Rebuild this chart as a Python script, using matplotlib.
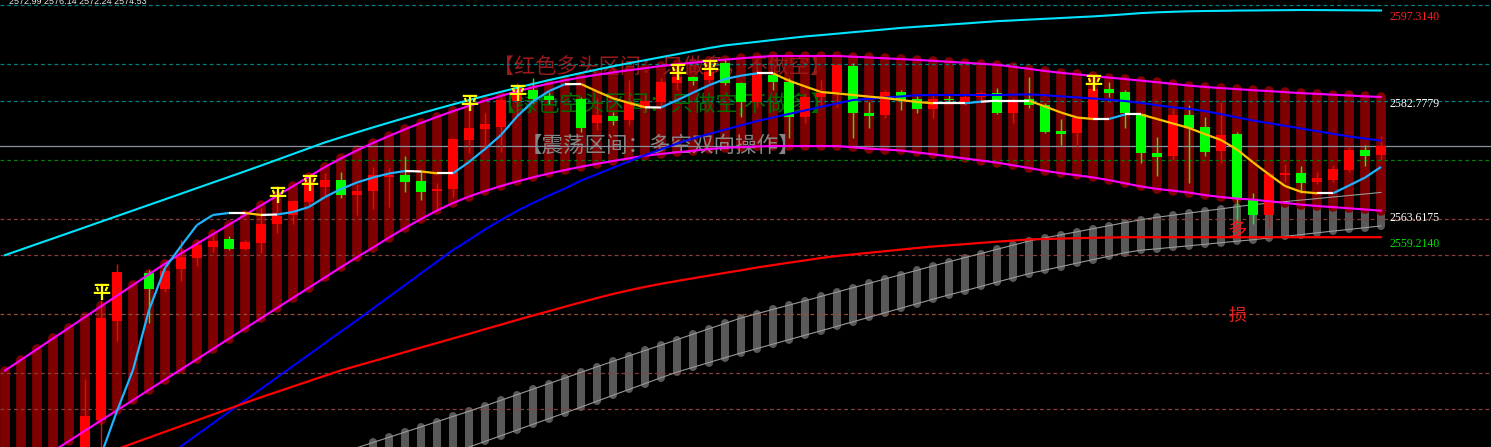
import numpy as np
import matplotlib.pyplot as plt
from matplotlib.collections import LineCollection

plt.rcParams['font.family'] = ['Noto Sans CJK SC', 'DejaVu Sans']

nan = np.nan

# Candles, one per bar. Index 0 is the bar at the left edge of the screen.
opens = [nan, nan, nan, nan, nan, 2520.08, 2528.49, 2545.13, nan, 2553.20,
         2550.51, 2553.87, 2555.72, 2557.57, 2558.91, 2557.23, 2558.24, 2561.43, 2562.95, 2565.13,
         2567.65, 2568.83, 2566.31, 2566.98, 2569.33, 2569.67, 2568.66, 2566.98, 2567.32, 2575.55,
         2577.40, 2577.74, 2582.11, 2583.95, 2582.95, nan, 2582.44, 2578.41, 2579.58, 2578.91,
         2580.93, 2581.94, 2585.13, 2586.14, 2585.63, 2588.49, 2585.13, 2581.94, 2586.47, 2585.30,
         2579.42, 2582.78, 2583.62, 2587.99, 2580.09, 2579.75, 2583.62, 2582.44, 2580.76, 2582.44,
         2581.94, 2582.78, 2583.45, 2580.09, 2582.44, 2581.43, 2577.06, 2576.73, 2579.25, 2584.12,
         2583.62, 2579.92, 2573.37, 2572.86, 2579.75, 2577.74, 2573.70, 2576.56, 2565.63, 2562.95,
         2569.67, 2570.00, 2568.49, 2568.83, 2570.51, 2573.87, 2572.99]
highs = [nan, nan, nan, nan, nan, 2535.38, 2548.66, 2554.71, nan, 2553.70,
         2554.04, 2558.74, 2558.74, 2559.58, 2559.42, 2558.74, 2564.12, 2567.82, 2565.47, 2569.67,
         2570.00, 2570.17, 2568.16, 2571.01, 2570.84, 2572.86, 2570.51, 2568.32, 2575.89, 2583.11,
         2580.09, 2582.78, 2585.13, 2585.97, 2583.62, nan, 2582.78, 2582.61, 2580.26, 2585.63,
         2583.11, 2585.97, 2587.65, 2586.31, 2588.66, 2589.33, 2585.30, 2587.32, 2586.81, 2585.97,
         2583.45, 2585.63, 2588.49, 2588.49, 2581.94, 2583.95, 2583.95, 2582.95, 2582.95, 2583.28,
         2583.45, 2583.79, 2584.29, 2582.61, 2586.14, 2581.77, 2579.08, 2579.42, 2585.97, 2585.30,
         2583.95, 2579.92, 2576.05, 2581.10, 2581.43, 2579.42, 2581.94, 2576.90, 2566.64, 2570.17,
         2571.52, 2571.18, 2570.17, 2571.35, 2574.37, 2574.71, 2576.14]
lows = [nan, nan, nan, nan, nan, 2518.41, 2521.77, 2541.77, nan, 2544.79,
        2550.00, 2551.85, 2554.37, 2556.73, 2557.06, 2557.06, 2556.56, 2559.92, 2561.43, 2564.63,
        2565.97, 2565.80, 2562.95, 2563.95, 2564.29, 2566.81, 2565.47, 2563.79, 2565.97, 2573.37,
        2573.87, 2573.53, 2579.42, 2581.77, 2581.60, nan, 2576.90, 2577.23, 2578.07, 2578.07,
        2580.26, 2581.10, 2583.95, 2584.79, 2585.13, 2584.79, 2579.42, 2581.10, 2583.95, 2575.89,
        2578.41, 2581.10, 2581.10, 2575.89, 2577.57, 2579.25, 2580.59, 2580.09, 2579.25, 2581.77,
        2581.43, 2582.27, 2580.00, 2578.41, 2580.93, 2576.73, 2574.71, 2574.37, 2579.08, 2582.78,
        2577.57, 2571.69, 2569.50, 2572.19, 2568.32, 2572.86, 2571.69, 2561.60, 2561.43, 2560.59,
        2568.49, 2566.64, 2568.16, 2568.49, 2570.17, 2571.18, 2572.24]
closes = [nan, nan, nan, nan, nan, 2529.16, 2545.63, 2553.37, nan, 2550.51,
          2553.53, 2555.89, 2557.90, 2558.58, 2557.23, 2558.41, 2561.43, 2562.78, 2565.30, 2568.49,
          2568.83, 2566.31, 2566.98, 2569.67, 2569.67, 2568.49, 2566.81, 2567.32, 2575.72, 2577.57,
          2578.24, 2582.27, 2584.29, 2582.44, 2582.27, nan, 2577.57, 2579.75, 2578.74, 2581.94,
          2582.11, 2585.30, 2586.14, 2585.47, 2586.98, 2585.13, 2581.94, 2586.81, 2585.30, 2579.42,
          2582.78, 2583.45, 2588.16, 2580.09, 2579.58, 2583.62, 2582.27, 2580.76, 2582.44, 2582.19,
          2582.78, 2583.45, 2580.09, 2582.27, 2581.43, 2576.90, 2576.64, 2579.25, 2584.12, 2583.45,
          2580.09, 2573.37, 2572.69, 2579.75, 2577.57, 2573.53, 2576.39, 2565.63, 2562.95, 2569.84,
          2570.00, 2568.32, 2569.16, 2570.68, 2573.87, 2572.86, 2574.53]

# channel (magenta lines, dark red bars between them)
band_upper = [2536.79, 2538.59, 2540.39, 2542.19, 2543.99, 2545.80, 2547.60, 2549.38, 2551.18, 2552.98,
              2554.76, 2556.49, 2558.10, 2559.72, 2561.33, 2562.95, 2564.56, 2566.17, 2567.79, 2569.40,
              2571.01, 2572.46, 2573.80, 2575.05, 2576.22, 2577.35, 2578.42, 2579.43, 2580.39, 2581.30,
              2582.16, 2582.96, 2583.72, 2584.41, 2585.03, 2585.58, 2586.07, 2586.51, 2586.91, 2587.28,
              2587.62, 2588.00, 2588.27, 2588.54, 2588.81, 2589.06, 2589.28, 2589.50, 2589.67, 2589.67,
              2589.67, 2589.67, 2589.67, 2589.55, 2589.42, 2589.28, 2589.15, 2589.01, 2588.86, 2588.69,
              2588.53, 2588.36, 2588.19, 2587.87, 2587.50, 2587.15, 2586.84, 2586.58, 2586.31, 2586.04,
              2585.79, 2585.53, 2585.26, 2584.98, 2584.69, 2584.46, 2584.27, 2584.10, 2583.92, 2583.77,
              2583.60, 2583.43, 2583.30, 2583.16, 2583.03, 2582.88, 2582.78]
band_lower = [2518.07, 2519.75, 2521.53, 2523.25, 2524.96, 2526.69, 2528.41, 2530.12, 2531.83, 2533.57,
              2535.28, 2536.99, 2538.71, 2540.44, 2542.16, 2543.87, 2545.58, 2547.31, 2549.03, 2550.74,
              2552.46, 2554.17, 2555.85, 2557.48, 2559.16, 2560.76, 2562.27, 2563.70, 2564.96, 2566.05,
              2566.98, 2567.82, 2568.58, 2569.28, 2569.92, 2570.51, 2571.05, 2571.55, 2572.02, 2572.47,
              2572.91, 2573.21, 2573.48, 2573.75, 2574.02, 2574.24, 2574.34, 2574.46, 2574.54, 2574.54,
              2574.54, 2574.54, 2574.54, 2574.32, 2574.09, 2573.94, 2573.79, 2573.45, 2573.15, 2572.79,
              2572.44, 2572.10, 2571.75, 2571.30, 2570.84, 2570.37, 2569.97, 2569.62, 2569.26, 2568.81,
              2568.27, 2567.74, 2567.33, 2567.03, 2566.71, 2566.29, 2565.97, 2565.70, 2565.53, 2565.25,
              2564.98, 2564.68, 2564.46, 2564.27, 2564.07, 2563.87, 2563.67]

# lower grey channel
grey_upper = [nan, nan, nan, nan, nan, nan, nan, nan, nan, nan,
              nan, nan, nan, nan, nan, nan, nan, nan, nan, nan,
              nan, nan, 2523.83, 2524.71, 2525.58, 2526.46, 2527.33, 2528.21, 2529.08, 2529.95,
              2530.88, 2531.80, 2532.74, 2533.68, 2534.61, 2535.55, 2536.49, 2537.43, 2538.36, 2539.26,
              2540.17, 2541.08, 2541.99, 2542.91, 2543.82, 2544.73, 2545.63, 2546.36, 2547.08, 2547.80,
              2548.52, 2549.26, 2549.99, 2550.73, 2551.45, 2552.19, 2552.93, 2553.65, 2554.39, 2555.08,
              2555.79, 2556.47, 2557.18, 2557.87, 2558.58, 2559.10, 2559.62, 2560.12, 2560.64, 2561.15,
              2561.67, 2562.14, 2562.56, 2562.91, 2563.26, 2563.63, 2563.97, 2564.34, 2564.68, 2564.93,
              2565.20, 2565.45, 2565.70, 2565.97, 2566.22, 2566.47, 2566.74]
grey_lower = [nan, nan, nan, nan, nan, nan, nan, nan, nan, nan,
              nan, nan, nan, nan, nan, nan, nan, nan, nan, nan,
              nan, nan, 2517.16, 2518.14, 2519.11, 2520.07, 2521.05, 2522.00, 2522.98, 2523.95,
              2524.89, 2525.85, 2526.81, 2527.77, 2528.73, 2529.68, 2530.66, 2531.65, 2532.64, 2533.63,
              2534.61, 2535.60, 2536.54, 2537.35, 2538.15, 2538.96, 2539.75, 2540.49, 2541.25, 2541.99,
              2542.74, 2543.48, 2544.24, 2545.00, 2545.75, 2546.52, 2547.28, 2548.04, 2548.79, 2549.52,
              2550.22, 2550.94, 2551.67, 2552.39, 2553.10, 2553.68, 2554.27, 2554.86, 2555.45, 2556.02,
              2556.61, 2557.03, 2557.26, 2557.52, 2557.77, 2558.02, 2558.29, 2558.54, 2558.79, 2559.08,
              2559.36, 2559.65, 2559.95, 2560.24, 2560.52, 2560.81, 2561.11]

# moving averages
cyan_line = [2556.19, 2557.13, 2558.07, 2559.00, 2559.94, 2560.88, 2561.82, 2562.76, 2563.70, 2564.64,
             2565.58, 2566.52, 2567.47, 2568.41, 2569.35, 2570.29, 2571.25, 2572.22, 2573.20, 2574.17,
             2575.15, 2576.00, 2576.84, 2577.67, 2578.47, 2579.26, 2580.04, 2580.79, 2581.53, 2582.26,
             2582.96, 2583.65, 2584.32, 2584.98, 2585.62, 2586.22, 2586.81, 2587.38, 2587.94, 2588.46,
             2588.96, 2589.47, 2589.97, 2590.49, 2591.00, 2591.45, 2591.75, 2592.05, 2592.36, 2592.66,
             2592.95, 2593.18, 2593.42, 2593.67, 2593.90, 2594.14, 2594.39, 2594.58, 2594.76, 2594.95,
             2595.13, 2595.33, 2595.52, 2595.65, 2595.79, 2595.92, 2596.05, 2596.19, 2596.32, 2596.49,
             2596.68, 2596.88, 2597.01, 2597.10, 2597.18, 2597.23, 2597.26, 2597.30, 2597.32, 2597.35,
             2597.37, 2597.40, 2597.38, 2597.37, 2597.35, 2597.33, 2597.31]
blue_line = [nan, nan, nan, nan, nan, nan, nan, nan, nan, 2520.21,
             2522.14, 2524.07, 2526.00, 2527.94, 2529.85, 2531.78, 2533.72, 2535.63, 2537.57, 2539.48,
             2541.42, 2543.35, 2545.26, 2547.23, 2549.20, 2551.16, 2553.13, 2555.10, 2557.06, 2558.74,
             2560.51, 2562.11, 2563.62, 2564.96, 2566.22, 2567.40, 2568.73, 2569.80, 2570.88, 2571.95,
             2573.00, 2573.97, 2574.95, 2575.82, 2576.56, 2577.30, 2578.02, 2578.73, 2579.33, 2579.94,
             2580.52, 2581.13, 2581.70, 2582.27, 2582.47, 2582.68, 2582.88, 2583.08, 2583.11, 2583.11,
             2583.11, 2583.11, 2583.11, 2583.16, 2583.21, 2583.08, 2582.89, 2582.71, 2582.52, 2582.32,
             2582.10, 2581.79, 2581.40, 2581.05, 2580.78, 2580.42, 2579.89, 2579.35, 2578.83, 2578.37,
             2577.94, 2577.48, 2577.03, 2576.59, 2576.14, 2575.79, 2575.45]
red_line = [nan, nan, nan, nan, nan, nan, 2522.61, 2523.58, 2524.56, 2525.53,
            2526.51, 2527.47, 2528.44, 2529.41, 2530.37, 2531.36, 2532.31, 2533.21, 2534.12, 2535.03,
            2535.92, 2536.83, 2537.60, 2538.36, 2539.13, 2539.90, 2540.68, 2541.43, 2542.20, 2542.96,
            2543.75, 2544.52, 2545.30, 2546.05, 2546.79, 2547.53, 2548.27, 2548.99, 2549.67, 2550.29,
            2550.86, 2551.38, 2551.85, 2552.31, 2552.76, 2553.21, 2553.65, 2554.12, 2554.52, 2554.93,
            2555.31, 2555.72, 2556.05, 2556.32, 2556.59, 2556.86, 2557.13, 2557.40, 2557.65, 2557.85,
            2558.05, 2558.26, 2558.46, 2558.64, 2558.84, 2558.91, 2558.98, 2559.05, 2559.10, 2559.16,
            2559.21, 2559.21, 2559.21, 2559.21, 2559.21, 2559.21, 2559.21, 2559.21, 2559.21, 2559.21,
            2559.21, 2559.21, 2559.21, 2559.21, 2559.21, 2559.21, 2559.21]
short_ma = [nan, nan, nan, nan, nan, nan, 2522.61, 2530.00, 2536.89, 2546.98,
            2554.04, 2557.73, 2561.26, 2562.95, 2563.28, 2563.28, 2562.95, 2563.03, 2563.45, 2564.29,
            2565.97, 2567.31, 2568.41, 2569.25, 2569.92, 2570.34, 2570.26, 2569.95, 2569.95, 2571.85,
            2574.04, 2576.39, 2579.50, 2582.05, 2583.77, 2584.93, 2584.96, 2583.72, 2582.56, 2581.77,
            2581.05, 2581.01, 2582.24, 2583.50, 2584.76, 2585.80, 2586.36, 2586.76, 2586.76, 2585.52,
            2584.56, 2583.62, 2583.38, 2583.11, 2582.84, 2582.61, 2582.27, 2581.94, 2581.72, 2581.72,
            2581.72, 2581.99, 2582.16, 2582.16, 2582.16, 2581.18, 2580.17, 2579.33, 2579.08, 2579.08,
            2579.84, 2579.84, 2579.08, 2578.32, 2577.57, 2576.53, 2575.55, 2573.94, 2571.80, 2569.75,
            2567.82, 2566.84, 2566.59, 2566.59, 2567.90, 2569.23, 2571.01]
# trend of the short MA on the segment ending at each bar: u = up, d = down, f = flat
short_ma_trend = ("-------" + "uuuuuuuu" + "fdf" + "uuuuuuuu" + "fdf" + "uuuuuuu" + "f" + "dddd" + "f"
                  + "uuuuuu" + "f" + "dddddddddd" + "ff" + "u" + "fff" + "dddd" + "f" + "u" + "f"
                  + "ddddddddddd" + "f" + "uuu")

# "平" signals: bar index and price
ping_bars = [6, 17, 19, 29, 32, 42, 44, 68]
ping_prices = [2549.99, 2566.19, 2568.27, 2581.72, 2583.40, 2586.93, 2587.60, 2585.08]

# horizontal reference levels
levels = [2598.24, 2588.32, 2582.10, 2574.53, 2572.19, 2562.27, 2556.22, 2546.31, 2536.39, 2530.34]
level_colors = ['#008080', '#008080', '#008080', '#8A90A0', '#008000',
                '#8C3C3C', '#8C3C3C', '#9A4A36', '#8C3C3C', '#8C3C3C']
level_solid = [False, False, False, True, False, False, False, False, False, False]

# price labels on the right edge
label_values = [2597.3140, 2582.7779, 2563.6175, 2559.2140]
label_colors = ['#FF2020', '#FFFFFF', '#FFFFFF', '#00E000']

x = np.arange(len(closes))
o = np.array(opens)
h = np.array(highs)
l = np.array(lows)
c = np.array(closes)

fig = plt.figure(figsize=(14.91, 4.47), dpi=100, facecolor='black')
ax = fig.add_axes([0, 0, 1, 1])
ax.set_facecolor('black')
ax.set_axis_off()
ax.set_xlim(-0.3125, 92.875)
ax.set_ylim(2523.95, 2599.08)

# grey bars with their thin edge lines
gu = np.array(grey_upper)
gl = np.array(grey_lower)
gm = ~np.isnan(gu)
grey_bars = ax.vlines(x[gm], gl[gm], gu[gm], colors='#595959', linewidth=5.8, zorder=1)
grey_bars.set_capstyle('round')

# dark red channel bars
red_bars = ax.vlines(x, band_lower, band_upper, colors='#800000', linewidth=7.0, zorder=2)
red_bars.set_capstyle('round')

ax.plot(x, grey_upper, color='#9A9A9A', linewidth=0.8, zorder=3)
ax.plot(x, grey_lower, color='#9A9A9A', linewidth=0.8, zorder=3)

for lev, col, solid in zip(levels, level_colors, level_solid):
    ax.axhline(lev, color=col, linewidth=0.9, linestyle='-' if solid else (0, (3, 2.4)), zorder=2.6)

# zone captions
ax.text(30.5, 2587.65, '【红色多头区间：只做多，不做空】', color='#9A1A1A', fontsize=15.2,
        ha='left', va='center', zorder=2.5)
ax.text(30.5, 2581.43, '【绿色空头区间：只做空,不做多】', color='#006E00', fontsize=16,
        ha='left', va='center', zorder=2.5)
ax.text(32.2, 2574.54, '【震荡区间：多空双向操作】', color='#858585', fontsize=15.5,
        ha='left', va='center', zorder=2.5)

# candles
ok = ~np.isnan(o)
colors = np.where(c >= o, '#FF0000', '#00FF00')
body = np.maximum(np.abs(c - o), 0.3)
bottom = np.minimum(o, c)
ax.vlines(x[ok], l[ok], h[ok], colors=colors[ok], linewidth=1.0, zorder=5)
ax.bar(x[ok], body[ok], bottom=bottom[ok], width=0.68, color=colors[ok], linewidth=0, zorder=6)

# lines
ax.plot(x, band_upper, color='#FF00FF', linewidth=1.5, zorder=7)
ax.plot(x, band_lower, color='#FF00FF', linewidth=1.5, zorder=7)
ax.plot(x, cyan_line, color='#00E5FF', linewidth=1.5, zorder=7)
ax.plot(x, blue_line, color='#0000FF', linewidth=1.5, zorder=7)
ax.plot(x, red_line, color='#FF0000', linewidth=1.6, zorder=7)

# short MA, coloured by its direction
trend_colors = {'u': '#1EB4FF', 'd': '#FFC000', 'f': '#FFFFFF'}
segs = []
seg_colors = []
for i in range(1, len(short_ma)):
    if short_ma_trend[i] == '-' or np.isnan(short_ma[i - 1]):
        continue
    segs.append([(x[i - 1], short_ma[i - 1]), (x[i], short_ma[i])])
    seg_colors.append(trend_colors[short_ma_trend[i]])
ax.add_collection(LineCollection(segs, colors=seg_colors, linewidths=1.6, zorder=8))

for b, p in zip(ping_bars, ping_prices):
    ax.text(b, p, '平', color='#FFFF00', fontsize=13, fontweight='bold',
            ha='center', va='center', zorder=9)

ax.text(77, 2560.2, '多', color='#FF1010', fontsize=14, ha='center', va='center', zorder=9)
ax.text(77.05, 2545.97, '损', color='#E02020', fontsize=13, ha='center', va='center', zorder=9)

for val, col in zip(label_values, label_colors):
    ax.annotate(f'{val:.4f}', xy=(86, val), xytext=(6, -5), textcoords='offset points',
                color=col, fontsize=8.5, family='Liberation Serif', ha='left', va='center')

# last bar OHLC readout, cut off at the top edge
ax.text(0.006, 1 - 1.5 / 447,
        f'{opens[-1]:.2f} {highs[-1]:.2f} {lows[-1]:.2f} {closes[-1]:.2f}',
        transform=ax.transAxes, color='#E8E8E8', fontsize=6.5, family='Liberation Sans',
        ha='left', va='center')

fig.savefig('out.png', dpi=100, facecolor='black')
